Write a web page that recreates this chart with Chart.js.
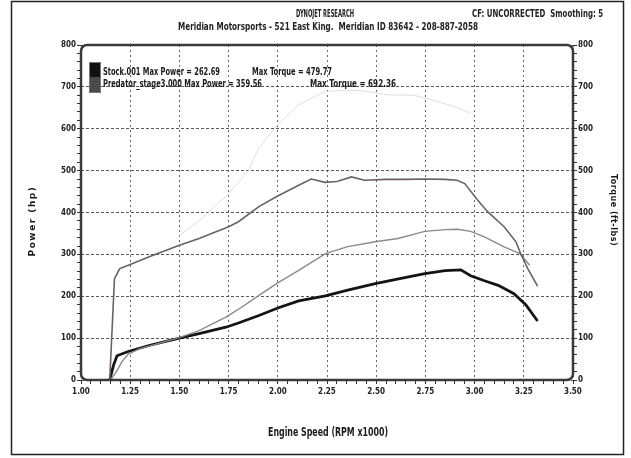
<!DOCTYPE html>
<html>
<head>
<meta charset="utf-8">
<script src="https://cdn.jsdelivr.net/npm/chart.js@4"></script>
<style>
  body { margin: 0; background: #fff; }
</style>
</head>
<body>
<canvas id="dyno" width="631" height="458"></canvas>
<script>
// values (RPM x1000)
const stockRpm = [1.146, 1.165, 1.183, 1.24, 1.35, 1.5, 1.6, 1.736, 1.8, 1.904, 2.0, 2.106, 2.242, 2.35, 2.495, 2.62, 2.747, 2.85, 2.93, 2.98, 3.05, 3.12, 3.2, 3.26, 3.32];
const stockPower = [0, 35, 58, 68, 83, 100, 111, 126, 136, 154, 172, 189, 201, 214, 230, 242, 254, 261, 263, 249, 237, 226, 206, 180, 141];

const stockTorqueRpm = [1.146, 1.17, 1.197, 1.25, 1.35, 1.5, 1.6, 1.75, 1.8, 1.904, 1.99, 2.106, 2.17, 2.24, 2.3, 2.375, 2.44, 2.55, 2.65, 2.745, 2.85, 2.91, 2.95, 3.015, 3.066, 3.15, 3.21, 3.234, 3.27, 3.32];
const stockTorque = [0, 242, 266, 276, 295, 322, 338, 366, 378, 414, 437, 465, 480, 472, 474, 485, 477, 479, 479, 480, 479, 477, 469, 430, 402, 366, 330, 302, 266, 224];

const predatorRpm = [1.15, 1.18, 1.21, 1.24, 1.3, 1.4, 1.5, 1.6, 1.736, 1.82, 1.904, 2.0, 2.106, 2.242, 2.35, 2.495, 2.61, 2.747, 2.85, 2.914, 2.98, 3.05, 3.15, 3.23, 3.28];
const predatorPower = [0, 20, 45, 62, 75, 88, 101, 118, 150, 175, 202, 232, 262, 302, 318, 330, 338, 355, 359, 360, 355, 342, 318, 302, 274];

const predatorTorqueRpm = [1.5, 1.6, 1.75, 1.85, 1.904, 2.0, 2.106, 2.24, 2.35, 2.44, 2.56, 2.695, 2.78, 2.9, 2.98];
const predatorTorque = [345, 380, 445, 500, 555, 610, 657, 689, 692, 690, 681, 680, 669, 653, 637];

const rpmMin = 1.0, rpmMax = 3.5, rpmStep = 0.05;
const valMin = 0, valMax = 800, valStep = 20;

const narrow = "'DejaVu Sans Condensed', 'DejaVu Sans', sans-serif";
const pts = (xs, ys) => xs.map((x, i) => ({ x: x, y: ys[i] }));
const isQuarter = v => Math.abs(v * 4 - Math.round(v * 4)) < 1e-6;
const isHundred = v => Math.abs(v % 100) < 1e-6;

// draws text squeezed horizontally to a given width (the sheet uses a very narrow face)
function fitText(ctx, text, x, y, w, align) {
  const m = ctx.measureText(text).width;
  const k = Math.min(1, w / m);
  ctx.save();
  ctx.textAlign = 'left';
  let left = x;
  if (align === 'center') left = x - (m * k) / 2;
  ctx.translate(left, y);
  ctx.scale(k, 1);
  ctx.fillText(text, 0, 0);
  ctx.restore();
}

const decor = {
  id: 'decor',
  afterDraw(chart) {
    const ctx = chart.ctx;
    const a = chart.chartArea;
    ctx.save();
    // plot frame with rounded corners
    ctx.strokeStyle = '#3a3a3a';
    ctx.lineWidth = 2.5;
    ctx.beginPath();
    ctx.roundRect(a.left, a.top, a.right - a.left, a.bottom - a.top, 6);
    ctx.stroke();
    // outer border of the sheet
    ctx.lineWidth = 1.5;
    ctx.strokeStyle = '#222';
    ctx.strokeRect(11.5, 1.5, 612, 453);

    ctx.fillStyle = '#222';
    ctx.textBaseline = 'middle';
    ctx.font = 'bold 10px ' + narrow;
    fitText(ctx, 'DYNOJET RESEARCH', 325, 14, 58, 'center');
    fitText(ctx, 'Meridian Motorsports - 521 East King.  Meridian ID 83642 - 208-887-2058', 328, 27, 300, 'center');
    fitText(ctx, 'CF: UNCORRECTED  Smoothing: 5', 472, 14, 131, 'left');

    // legend
    ctx.fillStyle = '#111';
    ctx.fillRect(89, 62, 11, 15);
    ctx.fillStyle = '#4a4a4a';
    ctx.fillRect(89, 77, 11, 16);
    ctx.strokeStyle = '#777';
    ctx.lineWidth = 1;
    ctx.strokeRect(89.5, 62.5, 11, 30);
    ctx.fillStyle = '#1a1a1a';
    ctx.font = 'bold 11px ' + narrow;
    fitText(ctx, 'Stock.001 Max Power = 262.69', 103, 72, 117, 'left');
    fitText(ctx, 'Max Torque = 479.77', 252, 72, 80, 'left');
    fitText(ctx, 'Predator_stage3.000 Max Power = 359.56', 103, 84, 159, 'left');
    fitText(ctx, 'Max Torque = 692.36', 310, 84, 86, 'left');

    // axis titles
    ctx.font = 'bold 12px ' + narrow;
    fitText(ctx, 'Engine Speed (RPM x1000)', 328, 433, 120, 'center');

    ctx.textAlign = 'center';
    ctx.font = 'bold 9px DejaVu Sans';
    ctx.letterSpacing = '1.5px';
    ctx.save();
    ctx.translate(33, 221);
    ctx.rotate(-Math.PI / 2);
    ctx.fillText('Power (hp)', 0, 0);
    ctx.restore();
    ctx.font = 'bold 8px DejaVu Sans';
    ctx.letterSpacing = '0.5px';
    ctx.save();
    ctx.translate(613, 210);
    ctx.rotate(Math.PI / 2);
    ctx.fillText('Torque (ft-lbs)', 0, 0);
    ctx.restore();
    ctx.restore();
  }
};

const tickFont = { family: narrow, size: 8, weight: 'bold' };

new Chart(document.getElementById('dyno'), {
  type: 'line',
  data: {
    datasets: [
      {
        label: 'Predator_stage3.000 Torque',
        data: pts(predatorTorqueRpm, predatorTorque),
        yAxisID: 'y2',
        borderColor: '#dedede',
        borderWidth: 1
      },
      {
        label: 'Stock.001 Torque',
        data: pts(stockTorqueRpm, stockTorque),
        yAxisID: 'y2',
        borderColor: '#6a6262',
        borderWidth: 1.6
      },
      {
        label: 'Predator_stage3.000 Power',
        data: pts(predatorRpm, predatorPower),
        yAxisID: 'y',
        borderColor: '#8e8888',
        borderWidth: 1.4
      },
      {
        label: 'Stock.001 Power',
        data: pts(stockRpm, stockPower),
        yAxisID: 'y',
        borderColor: '#141414',
        borderWidth: 2.8
      }
    ]
  },
  options: {
    responsive: false,
    animation: false,
    layout: { padding: { top: 45 } },
    elements: { point: { radius: 0 }, line: { tension: 0 } },
    plugins: { legend: { display: false }, tooltip: { enabled: false } },
    scales: {
      x: {
        type: 'linear',
        min: rpmMin,
        max: rpmMax,
        afterFit: s => { s.height = 78; },
        border: { display: false, dash: [2, 3] },
        grid: {
          color: c => (c.tick && isQuarter(c.tick.value) ? 'rgba(70,60,60,0.8)' : 'rgba(0,0,0,0)'),
          tickColor: '#333',
          tickLength: 4
        },
        ticks: {
          stepSize: rpmStep,
          autoSkip: false,
          maxTicksLimit: 100,
          maxRotation: 0,
          minRotation: 0,
          padding: 3,
          color: '#222',
          font: tickFont,
          callback: v => (isQuarter(v) ? v.toFixed(2) : '')
        }
      },
      y: {
        position: 'left',
        min: valMin,
        max: valMax,
        afterFit: s => { s.width = 81; },
        border: { display: false, dash: [3, 2] },
        grid: {
          color: c => (c.tick && isHundred(c.tick.value) ? 'rgba(70,55,55,0.85)' : 'rgba(0,0,0,0)'),
          tickColor: '#333',
          tickLength: 4
        },
        ticks: {
          stepSize: valStep,
          autoSkip: false,
          maxTicksLimit: 100,
          padding: 1,
          color: '#222',
          font: tickFont,
          callback: v => (isHundred(v) ? String(v) : '')
        }
      },
      y2: {
        position: 'right',
        min: valMin,
        max: valMax,
        afterFit: s => { s.width = 58; },
        border: { display: false },
        grid: { drawOnChartArea: false, color: '#333', tickLength: 4 },
        ticks: {
          stepSize: valStep,
          autoSkip: false,
          maxTicksLimit: 100,
          padding: 1,
          color: '#222',
          font: tickFont,
          callback: v => (isHundred(v) ? String(v) : '')
        }
      }
    }
  },
  plugins: [decor]
});
</script>
</body>
</html>
